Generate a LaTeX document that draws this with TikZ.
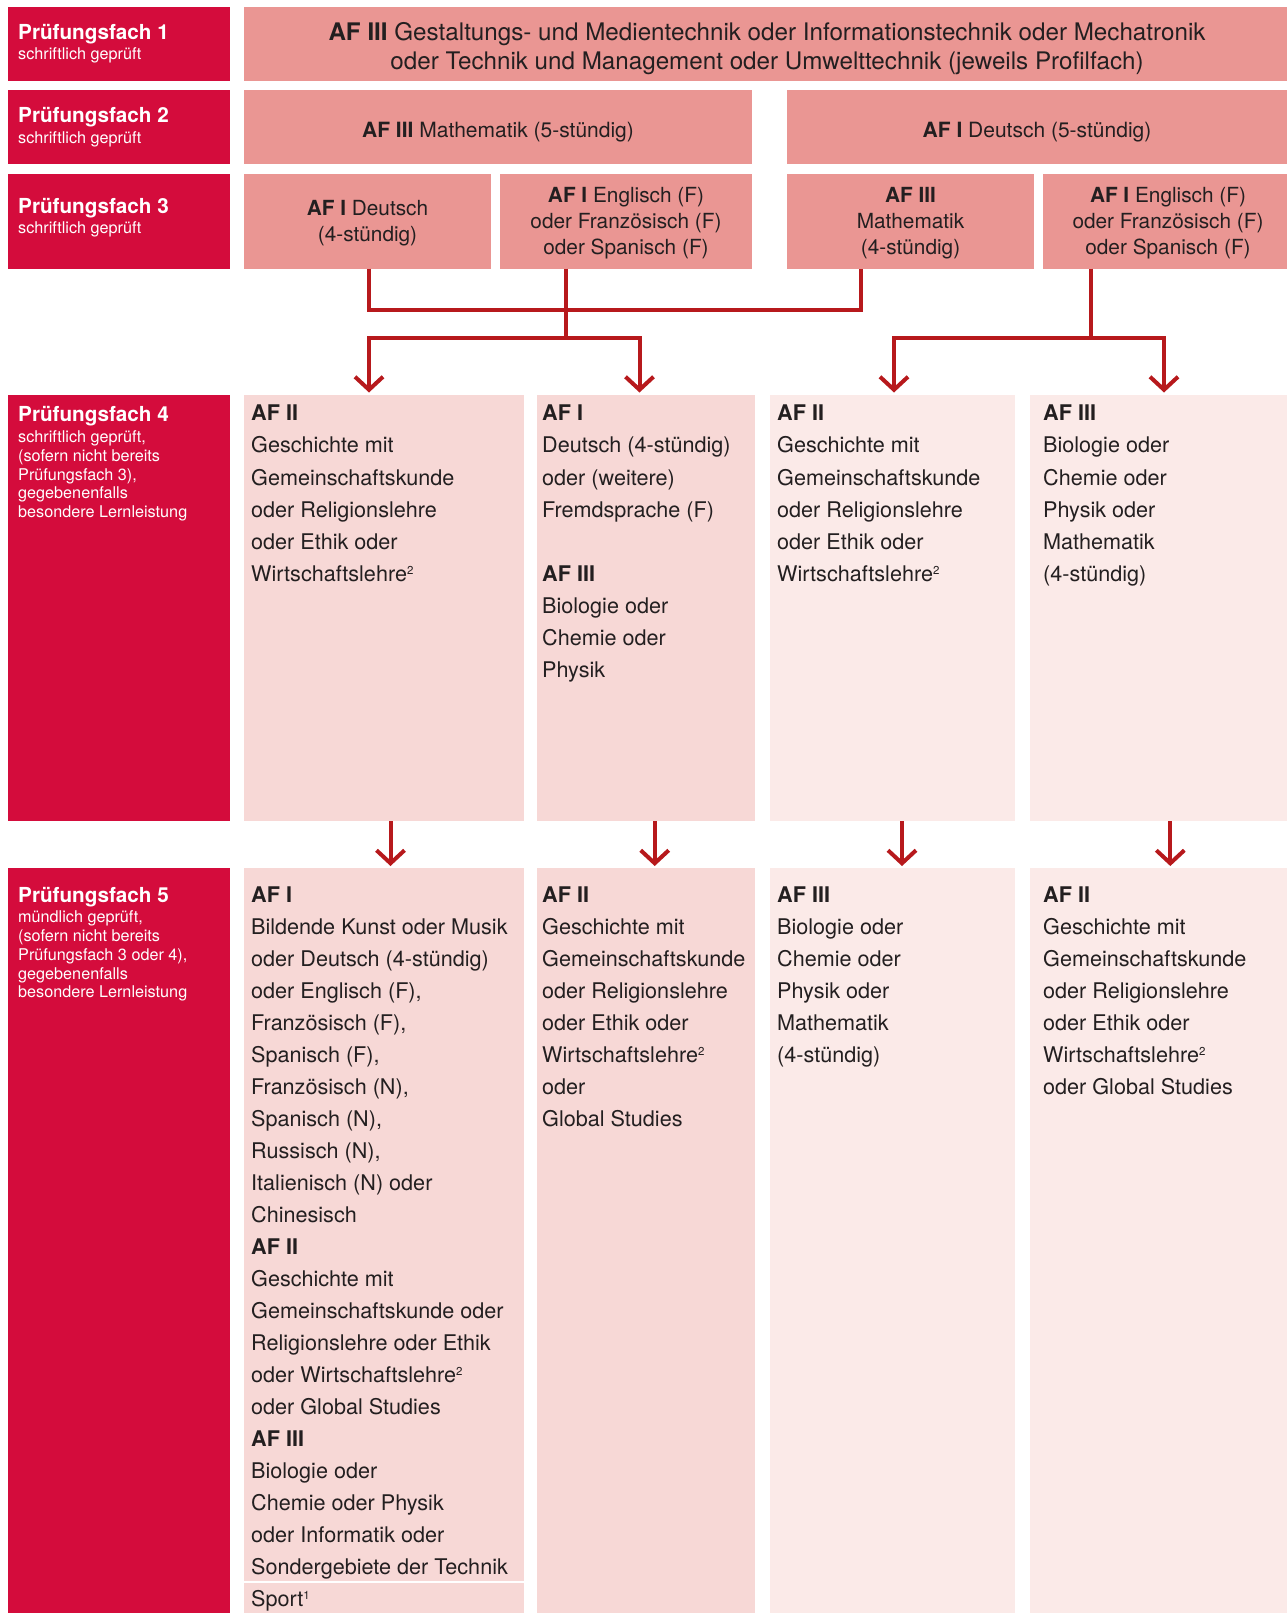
\documentclass[tikz,border=0pt]{standalone}
\usepackage{fontspec}
\setmainfont{TeX Gyre Heros}
\usetikzlibrary{arrows.meta,fit}
\definecolor{crim}{HTML}{D40C3C}
\definecolor{salm}{HTML}{EA9693}
\definecolor{pinkA}{HTML}{F7D8D6}
\definecolor{pinkB}{HTML}{FBEAE8}
\definecolor{arrred}{HTML}{B7191C}
\definecolor{ink}{HTML}{231F20}
\newcommand\supnum[1]{\raisebox{0.62ex}{\fontsize{11.5}{11.5}\selectfont #1}}
\begin{document}
\begin{tikzpicture}[x=1pt,y=-1pt,
  cell/.style={inner sep=0pt, outer sep=0pt, draw=none},
  lab/.style={cell, fill=crim},
  dark/.style={cell, fill=salm},
  lightA/.style={cell, fill=pinkA},
  lightB/.style={cell, fill=pinkB},
  labhead/.style={anchor=base west, inner sep=0pt, text=white, font=\fontsize{20.7}{22}\selectfont\bfseries},
  labsub/.style={anchor=north west, inner sep=0pt, text=white, align=left, font=\fontsize{16.2}{18.8}\selectfont},
  toptext/.style={inner sep=0pt, text=ink, align=center},
  body/.style={anchor=north west, inner sep=0pt, text=ink, align=left, font=\fontsize{21.6}{32.03}\selectfont},
  conn/.style={draw=arrred, line width=4pt},
  arr/.style={conn, -{Straight Barb[length=13pt, width=28pt]}}
]
\useasboundingbox (0,0) rectangle (1287,1613);
\fill[white] (0,0) rectangle (1287,1613);

% label boxes
\node[lab, fit={(8,7) (229.5,81)}] (l1) {};
\node[lab, fit={(8,90.5) (229.5,164.5)}] (l2) {};
\node[lab, fit={(8,174) (229.5,268.5)}] (l3) {};
\node[lab, fit={(8,395) (229.5,821)}] (l4) {};
\node[lab, fit={(8,868) (229.5,1613)}] (l5) {};

% rows 1-3
\node[dark, fit={(244,7) (1287,81)}] (r1) {};
\node[dark, fit={(244,90.5) (752,164.5)}] (r2a) {};
\node[dark, fit={(787,90.5) (1287,164.5)}] (r2b) {};
\node[dark, fit={(244,174) (491,268.5)}] (r3a) {};
\node[dark, fit={(500,174) (752,268.5)}] (r3b) {};
\node[dark, fit={(787,174) (1034,268.5)}] (r3c) {};
\node[dark, fit={(1043,174) (1287,268.5)}] (r3d) {};

% rows 4-5
\node[lightA, fit={(244,395) (523.5,821)}] (r4a) {};
\node[lightA, fit={(537,395) (755,821)}] (r4b) {};
\node[lightB, fit={(769.5,395) (1015,821)}] (r4c) {};
\node[lightB, fit={(1030,395) (1287,821)}] (r4d) {};
\node[lightA, fit={(244,868) (523.5,1613)}] (r5a) {};
\node[lightA, fit={(537,868) (755,1613)}] (r5b) {};
\node[lightB, fit={(769.5,868) (1015,1613)}] (r5c) {};
\node[lightB, fit={(1030,868) (1287,1613)}] (r5d) {};

% separator above Sport
\coordinate (sepy) at (0,1582);
\draw[white, line width=2pt] (r5a.west |- sepy) -- (r5a.east |- sepy);

% label texts
\node[labhead] (h1) at (18,39.8) {Prüfungsfach 1};
\node[labsub] (s1) at (18,47.8) {schriftlich geprüft};
\node[labhead] (h2) at (18,123) {Prüfungsfach 2};
\node[labsub] (s2) at (18,131) {schriftlich geprüft};
\node[labhead] (h3) at (18,213.8) {Prüfungsfach 3};
\node[labsub] (s3) at (18,221.8) {schriftlich geprüft};
\node[labhead] (h4) at (18,421.7) {Prüfungsfach 4};
\node[labsub] (s4) at (18,430.5) {schriftlich geprüft,\\(sofern nicht bereits\\Prüfungsfach 3),\\gegebenenfalls\\besondere Lernleistung};
\node[labhead] (h5) at (18,902.3) {Prüfungsfach 5};
\node[labsub] (s5) at (18,910.7) {mündlich geprüft,\\(sofern nicht bereits\\Prüfungsfach 3 oder 4),\\gegebenenfalls\\besondere Lernleistung};

% row 1-3 texts
\node[toptext, font=\fontsize{24.2}{28.8}\selectfont] (t1) at (767,49) {\textbf{AF III} Gestaltungs- und Medientechnik oder Informationstechnik oder Mechatronik\\oder Technik und Management oder Umwelttechnik (jeweils Profilfach)};
\node[toptext, font=\fontsize{21}{25}\selectfont] (t2a) at ([yshift=-5pt]r2a.center) {\textbf{AF III} Mathematik (5-stündig)};
\node[toptext, font=\fontsize{21}{25}\selectfont] (t2b) at ([yshift=-5pt]r2b.center) {\textbf{AF I} Deutsch (5-stündig)};
\node[toptext, font=\fontsize{20.8}{25.7}\selectfont] (t3a) at ([yshift=-2pt]r3a.center) {\textbf{AF I} Deutsch\\(4-stündig)};
\node[toptext, font=\fontsize{20.8}{25.7}\selectfont] (t3b) at ([yshift=-2pt]r3b.center) {\textbf{AF I} Englisch (F)\\oder Französisch (F)\\oder Spanisch (F)};
\node[toptext, font=\fontsize{20.8}{25.7}\selectfont] (t3c) at ([yshift=-2pt]r3c.center) {\textbf{AF III}\\Mathematik\\(4-stündig)};
\node[toptext, font=\fontsize{20.8}{25.7}\selectfont] (t3d) at ([xshift=3pt,yshift=-2pt]r3d.center) {\textbf{AF I} Englisch (F)\\oder Französisch (F)\\oder Spanisch (F)};

% row 4 texts
\node[body] (t4a) at (251,405) {\textbf{AF II}\\Geschichte mit\\Gemeinschaftskunde\\oder Religionslehre\\oder Ethik oder\\Wirtschaftslehre\supnum{2}};
\node[body] (t4b) at (542,405) {\textbf{AF I}\\Deutsch (4-stündig)\\oder (weitere)\\Fremdsprache (F)\\[32.03pt]\textbf{AF III}\\Biologie oder\\Chemie oder\\Physik};
\node[body] (t4c) at (777,405) {\textbf{AF II}\\Geschichte mit\\Gemeinschaftskunde\\oder Religionslehre\\oder Ethik oder\\Wirtschaftslehre\supnum{2}};
\node[body] (t4d) at (1043,405) {\textbf{AF III}\\Biologie oder\\Chemie oder\\Physik oder\\Mathematik\\(4-stündig)};

% row 5 texts
\node[body] (t5a) at (251,886.2) {\textbf{AF I}\\Bildende Kunst oder Musik\\oder Deutsch (4-stündig)\\oder Englisch (F),\\Französisch (F),\\Spanisch (F),\\Französisch (N),\\Spanisch (N),\\Russisch (N),\\Italienisch (N) oder\\Chinesisch\\\textbf{AF II}\\Geschichte mit\\Gemeinschaftskunde oder\\Religionslehre oder Ethik\\oder Wirtschaftslehre\supnum{2}\\oder Global Studies\\\textbf{AF III}\\Biologie oder\\Chemie oder Physik\\oder Informatik oder\\Sondergebiete der Technik\\Sport\supnum{1}};
\node[body] (t5b) at (542,886.2) {\textbf{AF II}\\Geschichte mit\\Gemeinschaftskunde\\oder Religionslehre\\oder Ethik oder\\Wirtschaftslehre\supnum{2}\\oder\\Global Studies};
\node[body] (t5c) at (777,886.2) {\textbf{AF III}\\Biologie oder\\Chemie oder\\Physik oder\\Mathematik\\(4-stündig)};
\node[body] (t5d) at (1043,886.2) {\textbf{AF II}\\Geschichte mit\\Gemeinschaftskunde\\oder Religionslehre\\oder Ethik oder\\Wirtschaftslehre\supnum{2}\\oder Global Studies};

% connector coordinates
\coordinate (ja) at (369,310);
\coordinate (jc) at (860.5,310);
\coordinate (jb) at (566,337.5);
\coordinate (jd) at (1090.5,337.5);
\coordinate (p1) at (369,392.5);
\coordinate (p2) at (639.5,392.5);
\coordinate (q1) at (894,392.5);
\coordinate (q2) at (1164,392.5);

% connectors rows 3 -> 4
\draw[conn, line join=miter] (ja |- r3a.south) -- (ja) -- (jc) -- (jc |- r3c.south);
\draw[conn] (jb |- r3b.south) -- (jb);
\draw[arr, line join=miter] (jb) -| (p1);
\draw[arr, line join=miter] (jb) -| (p2);
\draw[conn] (jd |- r3d.south) -- (jd);
\draw[arr, line join=miter] (jd) -| (q1);
\draw[arr, line join=miter] (jd) -| (q2);

% connectors rows 4 -> 5
\coordinate (u1) at (390.5,866);
\coordinate (u2) at (654.7,866);
\coordinate (u3) at (902,866);
\coordinate (u4) at (1170.3,866);
\draw[arr] (u1 |- r4a.south) -- (u1);
\draw[arr] (u2 |- r4b.south) -- (u2);
\draw[arr] (u3 |- r4c.south) -- (u3);
\draw[arr] (u4 |- r4d.south) -- (u4);
\end{tikzpicture}
\end{document}
